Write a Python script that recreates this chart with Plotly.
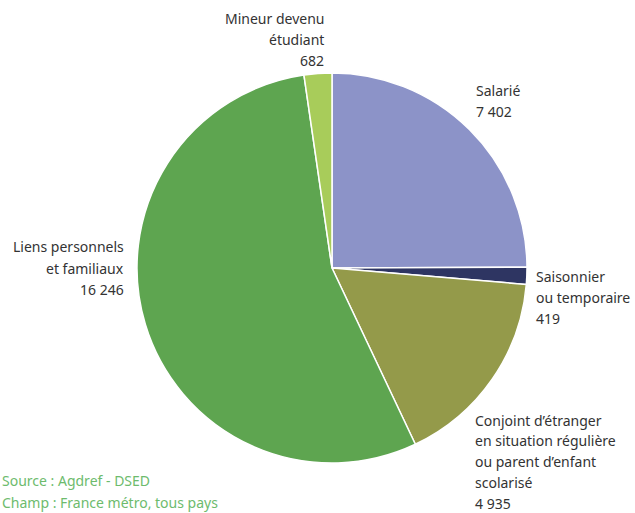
import plotly.graph_objects as go

W, H = 635, 513
labels = ["Salarié", "Saisonnier ou temporaire",
          "Conjoint d’étranger en situation régulière ou parent d’enfant scolarisé",
          "Liens personnels et familiaux", "Mineur devenu étudiant"]
values = [7402, 419, 4935, 16246, 682]
colors = ["#8c93c8", "#2e3562", "#949a4a", "#5ea550", "#a8cc5a"]
value_txt = ["7 402", "419", "4 935", "16 246", "682"]
label_lines = [["Salarié"], ["Saisonnier", "ou temporaire"],
               ["Conjoint d’étranger", "en situation régulière", "ou parent d’enfant", "scolarisé"],
               ["Liens personnels", "et familiaux"], ["Mineur devenu", "étudiant"]]
# label anchor (px): x, top-line y, xanchor
label_pos = [(474, 90, "left"), (534, 276, "left"), (473, 420, "left"),
             (126, 247, "right"), (326, 18, "right")]
source_lines = ["Source : Agdref - DSED", "Champ : France métro, tous pays"]

cx, cy, r = 332, 268, 195
fig = go.Figure(go.Pie(
    labels=labels, values=values, sort=False, direction="clockwise", rotation=0,
    marker=dict(colors=colors, line=dict(color="white", width=1.5)),
    textinfo="none", hoverinfo="label+value",
    domain=dict(x=[(cx - r) / W, (cx + r) / W], y=[(H - cy - r) / H, (H - cy + r) / H]),
))
ann = []
for (x, y, xa), lines, v in zip(label_pos, label_lines, value_txt):
    LS = 20.8 if len(lines) > 3 else 21.2
    for i, t in enumerate(lines + [v]):
        ann.append(dict(x=x / W, y=1 - (y + i * LS) / H, xref="paper", yref="paper",
                        text=t, showarrow=False, xanchor=xa, yanchor="middle", align=xa,
                        font=dict(size=14, color="#333333", family="Noto Sans")))
for i, t in enumerate(source_lines):
    ann.append(dict(x=0, y=1 - (480 + i * 22.5) / H, xref="paper", yref="paper",
                    text=t, showarrow=False, xanchor="left", yanchor="middle",
                    font=dict(size=14, color="#6dbb6d", family="Noto Sans")))
fig.update_layout(width=W, height=H, margin=dict(l=0, r=0, t=0, b=0),
                  showlegend=False, paper_bgcolor="white", annotations=ann)
fig.write_html("out.html")
